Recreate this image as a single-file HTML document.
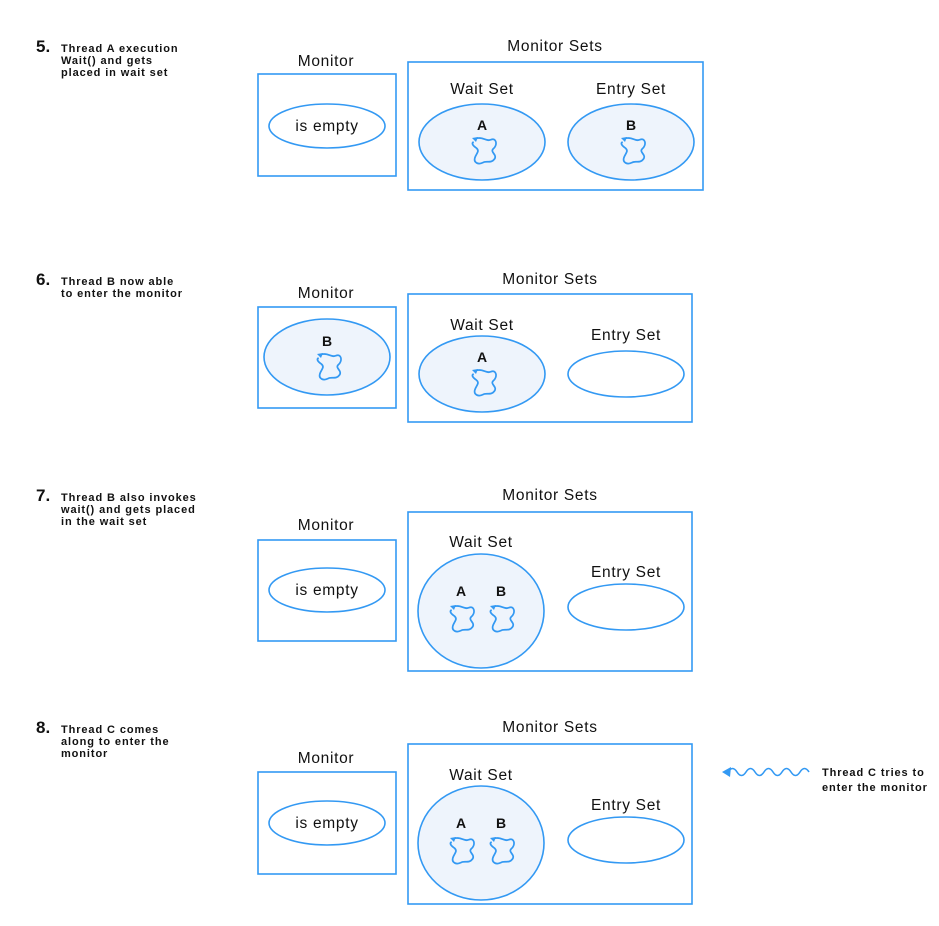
<!DOCTYPE html>
<html><head><meta charset="utf-8"><style>
html,body{margin:0;padding:0;background:#fff}
svg{display:block}
text{font-family:"Liberation Sans",sans-serif;fill:#111}
.t{font-size:15.5px;text-anchor:middle;letter-spacing:0.7px}
.s{font-size:11px;font-weight:bold;letter-spacing:0.9px}
.n{font-size:17px;font-weight:bold}
.l{font-size:14px;text-anchor:middle;font-weight:bold}
.b{fill:none;stroke:#3399f3;stroke-width:1.6}
.f{fill:#eef4fc;stroke:#3399f3;stroke-width:1.6}
.w{fill:#fff;stroke:#3399f3;stroke-width:1.6}
</style></head><body>
<svg width="939" height="926" viewBox="0 0 939 926">
<defs>
<g id="sq">
<path d="M-7,-10 C-1,-12 2,-7 6,-9 C11,-11 12,-4 8,-1 C5,2 12,4 9,8 C6,12 2,9 -1,11 C-5,13 -9,11 -8,7 C-7,3 -3,1 -7,-2 C-10,-4 -11,-6 -9,-7" fill="none" stroke="#3399f3" stroke-width="1.5" transform="scale(1.15)"/>
<path d="M-12,-12 L-6,-13 L-8,-8 Z" fill="#3399f3"/>
</g>
</defs>

<!-- Panel 5 -->
<text x="36" y="52" class="n">5.</text>
<text x="61" y="52" class="s">Thread A execution</text>
<text x="61" y="64" class="s">Wait() and gets</text>
<text x="61" y="76" class="s">placed in wait set</text>
<text x="326" y="66" class="t">Monitor</text>
<rect x="258" y="74" width="138" height="102" class="b"/>
<ellipse cx="327" cy="126" rx="58" ry="22" class="w"/>
<text x="327" y="131" class="t">is empty</text>
<text x="555" y="51" class="t">Monitor Sets</text>
<rect x="408" y="62" width="295" height="128" class="b"/>
<text x="482" y="94" class="t">Wait Set</text>
<ellipse cx="482" cy="142" rx="63" ry="38" class="f"/>
<text x="482" y="130" class="l">A</text>
<use href="#sq" x="484" y="150"/>
<text x="631" y="94" class="t">Entry Set</text>
<ellipse cx="631" cy="142" rx="63" ry="38" class="f"/>
<text x="631" y="130" class="l">B</text>
<use href="#sq" x="633" y="150"/>

<!-- Panel 6 -->
<text x="36" y="285" class="n">6.</text>
<text x="61" y="285" class="s">Thread B now able</text>
<text x="61" y="297" class="s">to enter the monitor</text>
<text x="326" y="298" class="t">Monitor</text>
<rect x="258" y="307" width="138" height="101" class="b"/>
<ellipse cx="327" cy="357" rx="63" ry="38" class="f"/>
<text x="327" y="346" class="l">B</text>
<use href="#sq" x="329" y="366"/>
<text x="550" y="284" class="t">Monitor Sets</text>
<rect x="408" y="294" width="284" height="128" class="b"/>
<text x="482" y="330" class="t">Wait Set</text>
<ellipse cx="482" cy="374" rx="63" ry="38" class="f"/>
<text x="482" y="362" class="l">A</text>
<use href="#sq" x="484" y="382"/>
<text x="626" y="340" class="t">Entry Set</text>
<ellipse cx="626" cy="374" rx="58" ry="23" class="w"/>

<!-- Panel 7 -->
<text x="36" y="501" class="n">7.</text>
<text x="61" y="501" class="s">Thread B also invokes</text>
<text x="61" y="513" class="s">wait() and gets placed</text>
<text x="61" y="525" class="s">in the wait set</text>
<text x="326" y="530" class="t">Monitor</text>
<rect x="258" y="540" width="138" height="101" class="b"/>
<ellipse cx="327" cy="590" rx="58" ry="22" class="w"/>
<text x="327" y="595" class="t">is empty</text>
<text x="550" y="500" class="t">Monitor Sets</text>
<rect x="408" y="512" width="284" height="159" class="b"/>
<text x="481" y="547" class="t">Wait Set</text>
<ellipse cx="481" cy="611" rx="63" ry="57" class="f"/>
<text x="461" y="596" class="l">A</text>
<text x="501" y="596" class="l">B</text>
<use href="#sq" x="462" y="618"/>
<use href="#sq" x="502" y="618"/>
<text x="626" y="577" class="t">Entry Set</text>
<ellipse cx="626" cy="607" rx="58" ry="23" class="w"/>

<!-- Panel 8 -->
<text x="36" y="733" class="n">8.</text>
<text x="61" y="733" class="s">Thread C comes</text>
<text x="61" y="745" class="s">along to enter the</text>
<text x="61" y="757" class="s">monitor</text>
<text x="326" y="763" class="t">Monitor</text>
<rect x="258" y="772" width="138" height="102" class="b"/>
<ellipse cx="327" cy="823" rx="58" ry="22" class="w"/>
<text x="327" y="828" class="t">is empty</text>
<text x="550" y="732" class="t">Monitor Sets</text>
<rect x="408" y="744" width="284" height="160" class="b"/>
<text x="481" y="780" class="t">Wait Set</text>
<ellipse cx="481" cy="843" rx="63" ry="57" class="f"/>
<text x="461" y="828" class="l">A</text>
<text x="501" y="828" class="l">B</text>
<use href="#sq" x="462" y="850"/>
<use href="#sq" x="502" y="850"/>
<text x="626" y="810" class="t">Entry Set</text>
<ellipse cx="626" cy="840" rx="58" ry="23" class="w"/>

<path d="M728,772 q4.5,-7 9,0 t9,0 t9,0 t9,0 t9,0 t9,0 t9,0 t9,0 t9,0" fill="none" stroke="#3399f3" stroke-width="1.6"/>
<path d="M722,772 L731,767 L730,777 Z" fill="#3399f3"/>
<text x="822" y="776" class="s">Thread C tries to</text>
<text x="822" y="791" class="s">enter the monitor</text>
</svg>
</body></html>
